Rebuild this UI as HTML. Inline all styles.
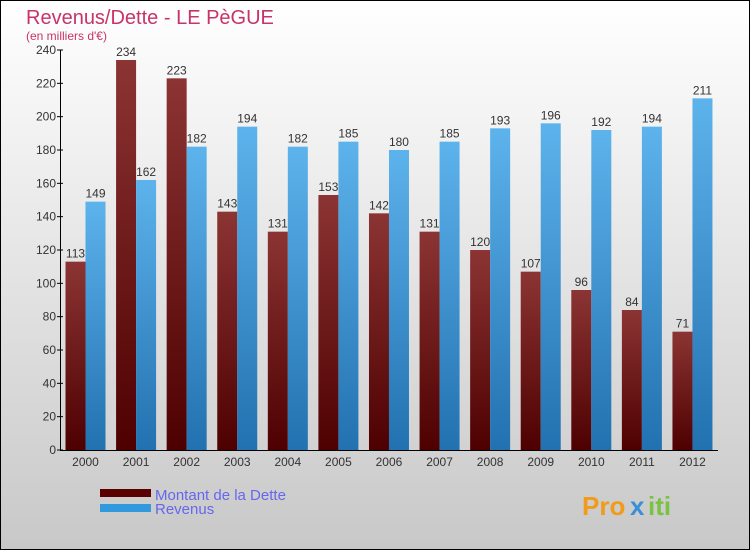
<!DOCTYPE html>
<html><head><meta charset="utf-8"><style>
body{margin:0;width:750px;height:550px;overflow:hidden;font-family:"Liberation Sans",sans-serif}
</style></head><body>
<svg id="chart" width="750" height="550" xmlns="http://www.w3.org/2000/svg">
<defs>
<linearGradient id="bg" x1="0" y1="0" x2="0" y2="1"><stop offset="0" stop-color="#ffffff"/><stop offset="1" stop-color="#c8c8c8"/></linearGradient>
<linearGradient id="gd" x1="0" y1="0" x2="0" y2="1"><stop offset="0" stop-color="#8c3434"/><stop offset="1" stop-color="#4e0000"/></linearGradient>
<linearGradient id="gr" x1="0" y1="0" x2="0" y2="1"><stop offset="0" stop-color="#5db3ec"/><stop offset="1" stop-color="#2271b0"/></linearGradient>
</defs>
<rect x="0.5" y="0.5" width="749" height="549" fill="url(#bg)" stroke="#000"/>
<text x="26" y="24" font-size="20" fill="#c8336a">Revenus/Dette - LE PèGUE</text>
<text x="26" y="40" font-size="12" fill="#c8336a">(en milliers d'€)</text>
<g id="plot"></g>
<rect x="100" y="489" width="51" height="8" fill="#5a0000"/>
<rect x="100" y="504" width="51" height="8" fill="#3399dd"/>
<text x="155" y="500" font-size="15" fill="#6666ee">Montant de la Dette</text>
<text x="155" y="514" font-size="15" fill="#6666ee">Revenus</text>
<g font-size="26" font-weight="bold">
<text x="582" y="515" fill="#f29a1a">Pro</text><text x="630" y="515" fill="#3a8fd6">x</text><text x="648" y="515" fill="#7cc242">iti</text>
</g>
</svg>
<script>
const years=["2000","2001","2002","2003","2004","2005","2006","2007","2008","2009","2010","2011","2012"];
const dette=[113,234,223,143,131,153,142,131,120,107,96,84,71];
const revenus=[149,162,182,194,182,185,180,185,193,196,192,194,211];
const yTicks=[0,20,40,60,80,100,120,140,160,180,200,220,240];
const NS="http://www.w3.org/2000/svg";
const g=document.getElementById('plot');
const y0=450,yTop=50,yMax=240;
const y=v=>y0-(v/yMax)*(y0-yTop);
const xc=i=>85.5+i*50.58;
function mk(t,a){const e=document.createElementNS(NS,t);for(const k in a)e.setAttribute(k,a[k]);g.appendChild(e);return e;}
years.forEach((yr,i)=>{
  const c=xc(i);
  let r=mk('rect',{x:c-20,y:y(dette[i]),width:20,height:y0-y(dette[i]),fill:'url(#gd)'});
  
  
  r=mk('rect',{x:c,y:y(revenus[i]),width:20,height:y0-y(revenus[i]),fill:'url(#gr)'});
  
  
  let t=mk('text',{x:c-10,y:y(dette[i])-4,'font-size':12,fill:'#333','text-anchor':'middle'});t.textContent=dette[i];
  
  
  t=mk('text',{x:c+10,y:y(revenus[i])-4,'font-size':12,fill:'#333','text-anchor':'middle'});t.textContent=revenus[i];
  
  
  t=mk('text',{x:c,y:466,'font-size':12,fill:'#333','text-anchor':'middle'});t.textContent=yr;
  
  
});
yTicks.forEach(v=>{
  mk('line',{x1:57,x2:63,y1:y(v),y2:y(v),stroke:'#000'});
  const t=mk('text',{x:56,y:y(v)+4,'font-size':12,fill:'#333','text-anchor':'end'});t.textContent=v;
  
  
});
let ax=mk('line',{x1:60.5,x2:60.5,y1:yTop,y2:y0,stroke:'#000'});


ax=mk('line',{x1:60,x2:718,y1:y0+0.5,y2:y0+0.5,stroke:'#000'});


</script>
</body></html>
